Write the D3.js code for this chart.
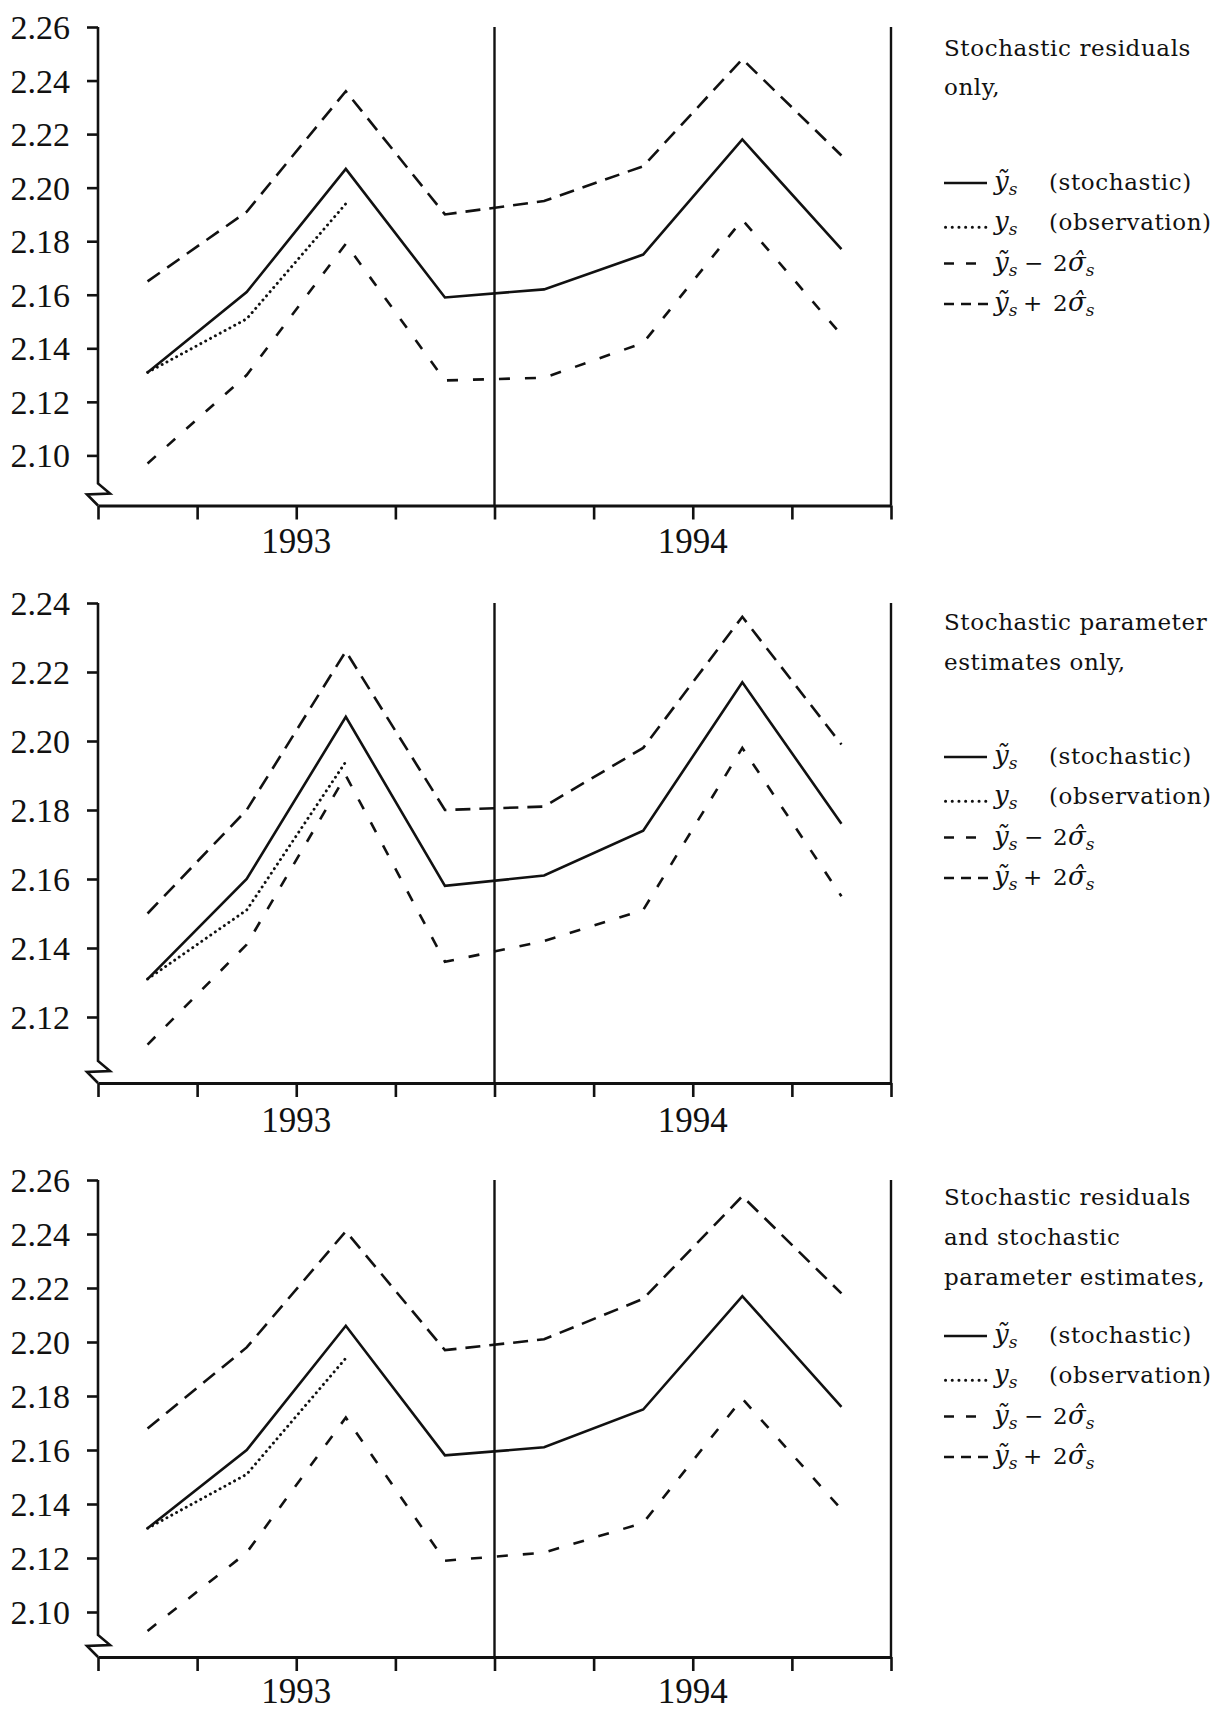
<!DOCTYPE html>
<html>
<head>
<meta charset="utf-8">
<script src="https://cdn.jsdelivr.net/npm/d3@7/dist/d3.min.js"></script>
<style>
  body { margin: 0; background: #fff; }
  svg { display: block; }
  .tick text { font-family: "Liberation Serif", "Times New Roman", serif; font-size: 34px; fill: #111; }
  .year { font-family: "Liberation Serif", "Times New Roman", serif; font-size: 35px; fill: #111; }
  .legend text { font-family: "DejaVu Serif", serif; font-size: 23px; letter-spacing: 0.6px; fill: #111; }
  .legend .math { font-family: "DejaVu Serif", serif; font-style: italic; letter-spacing: 0; }
</style>
</head>
<body>
<svg id="chart" width="1223" height="1711"></svg>
<script>
// quarters 1993Q1 .. 1994Q4
const quarters = ["1993Q1", "1993Q2", "1993Q3", "1993Q4", "1994Q1", "1994Q2", "1994Q3", "1994Q4"];
const years = ["1993", "1994"];
const observed = [2.131, 2.151, 2.194];

// panel 1: stochastic residuals only
const stochA = [2.131, 2.161, 2.207, 2.159, 2.162, 2.175, 2.218, 2.177];
const upperA = [2.165, 2.191, 2.236, 2.190, 2.195, 2.208, 2.248, 2.212];
const lowerA = [2.097, 2.130, 2.179, 2.128, 2.129, 2.142, 2.188, 2.145];
const ticksA = [2.10, 2.12, 2.14, 2.16, 2.18, 2.20, 2.22, 2.24, 2.26];

// panel 2: stochastic parameter estimates only
const stochB = [2.131, 2.160, 2.207, 2.158, 2.161, 2.174, 2.217, 2.176];
const upperB = [2.150, 2.180, 2.226, 2.180, 2.181, 2.198, 2.236, 2.199];
const lowerB = [2.112, 2.141, 2.190, 2.136, 2.142, 2.151, 2.198, 2.155];
const ticksB = [2.12, 2.14, 2.16, 2.18, 2.20, 2.22, 2.24];

// panel 3: both
const stochC = [2.131, 2.160, 2.206, 2.158, 2.161, 2.175, 2.217, 2.176];
const upperC = [2.168, 2.198, 2.241, 2.197, 2.201, 2.216, 2.254, 2.218];
const lowerC = [2.093, 2.122, 2.172, 2.119, 2.122, 2.133, 2.179, 2.138];
const ticksC = [2.10, 2.12, 2.14, 2.16, 2.18, 2.20, 2.22, 2.24, 2.26];

const titleA = ["Stochastic residuals", "only,"];
const titleB = ["Stochastic parameter", "estimates only,"];
const titleC = ["Stochastic residuals", "and stochastic", "parameter estimates,"];

// layout: yLow = pixel of the lowest tick, top = pixel of the highest tick
const panels = [
  { top: 27, yLow: 455.4, axisY: 505.5, ticks: ticksA, stoch: stochA, upper: upperA, lower: lowerA,
    title: titleA, titleY: [56, 95], legendY: 183, yearY: 553 },
  { top: 603, yLow: 1017, axisY: 1083, ticks: ticksB, stoch: stochB, upper: upperB, lower: lowerB,
    title: titleB, titleY: [630, 670], legendY: 757, yearY: 1132 },
  { top: 1180, yLow: 1612, axisY: 1657, ticks: ticksC, stoch: stochC, upper: upperC, lower: lowerC,
    title: titleC, titleY: [1205, 1245, 1285], legendY: 1336, yearY: 1703 },
];

const X0 = 98, X1 = 891;
const INK = "#111";

const svg = d3.select("#chart");

const xEdge = d3.scaleLinear().domain([0, quarters.length]).range([X0, X1]);
const xPt = d3.scalePoint().domain(quarters).range([X0, X1]).padding(0.5);

// legend entries: sample style + label pieces (x = fixed start where given)
const legendItems = [
  { dash: null, end: 987, parts: [{ t: "ỹ", m: 1, x: 994 }, { t: "s", sub: 1 }, { t: "(stochastic)", x: 1049 }] },
  { dash: "dot", end: 987, parts: [{ t: "y", m: 1, x: 994 }, { t: "s", sub: 1 }, { t: "(observation)", x: 1049 }] },
  { dash: "10,12", end: 976, parts: [{ t: "ỹ", m: 1, x: 994 }, { t: "s", sub: 1 }, { t: "−", x: 1024 }, { t: "2", x: 1053 }, { t: "σ\u0302", m: 1, x: 1068 }, { t: "s", sub: 1 }] },
  { dash: "10,7", end: 988, parts: [{ t: "ỹ", m: 1, x: 994 }, { t: "s", sub: 1 }, { t: "+", x: 1023 }, { t: "2", x: 1053 }, { t: "σ\u0302", m: 1, x: 1068 }, { t: "s", sub: 1 }] },
];

panels.forEach((p) => {
  const y = d3.scaleLinear()
    .domain([p.ticks[0], p.ticks[p.ticks.length - 1]])
    .range([p.yLow, p.top]);
  const g = svg.append("g");

  // y axis ticks + labels (spine drawn by hand for the break)
  const yAxis = g.append("g")
    .attr("transform", `translate(${X0},0)`)
    .call(d3.axisLeft(y).tickValues(p.ticks).tickSize(11).tickPadding(17).tickFormat(d3.format(".2f")));
  yAxis.select(".domain").remove();
  yAxis.selectAll(".tick line").attr("stroke", INK).attr("stroke-width", 2.6);
  yAxis.selectAll(".tick text").attr("font-family", null).attr("font-size", null).attr("dy", "0.34em");

  g.append("path")
    .attr("d", `M${X0},${p.top}V${p.axisY - 22}L${X0 + 12},${p.axisY - 12}L${X0 - 11},${p.axisY - 11}L${X0},${p.axisY}`)
    .attr("fill", "none").attr("stroke", INK).attr("stroke-width", 2.6).attr("stroke-linejoin", "miter");

  // x axis
  const xAxis = g.append("g")
    .attr("transform", `translate(0,${p.axisY})`)
    .call(d3.axisBottom(xEdge).tickValues(d3.range(quarters.length + 1)).tickSize(14).tickSizeOuter(0).tickFormat(""));
  xAxis.select(".domain").attr("stroke", INK).attr("stroke-width", 2.8);
  xAxis.selectAll(".tick line").attr("stroke", INK).attr("stroke-width", 2.6);

  g.selectAll(".year")
    .data(years)
    .enter()
    .append("text")
    .attr("class", "year")
    .attr("x", (d, i) => xEdge(2 + i * 4))
    .attr("y", p.yearY)
    .attr("text-anchor", "middle")
    .text((d) => d);

  // year divider and right border
  [4, 8].forEach((q) => {
    g.append("line")
      .attr("x1", xEdge(q)).attr("x2", xEdge(q))
      .attr("y1", p.top).attr("y2", p.axisY)
      .attr("stroke", INK).attr("stroke-width", 2.4);
  });

  const line = d3.line()
    .x((d, i) => xPt(quarters[i]))
    .y((d) => y(d));

  const series = [
    { v: p.upper, dash: "15,9", w: 2.6 },
    { v: p.lower, dash: "11,15", w: 2.6 },
    { v: observed, dash: "0.1,5.4", w: 2.9, cap: "round" },
    { v: p.stoch, dash: null, w: 2.6 },
  ];
  series.forEach((s) => {
    g.append("path")
      .datum(s.v)
      .attr("d", line)
      .attr("fill", "none")
      .attr("stroke", INK)
      .attr("stroke-width", s.w)
      .attr("stroke-dasharray", s.dash)
      .attr("stroke-linecap", s.cap || "butt")
      .attr("stroke-linejoin", "miter");
  });

  // legend
  const lg = g.append("g").attr("class", "legend");
  p.title.forEach((t, i) => {
    lg.append("text").attr("x", 944).attr("y", p.titleY[i]).text(t);
  });

  legendItems.forEach((it, i) => {
    const ly = p.legendY + i * 40.3;
    const ln = lg.append("line")
      .attr("x1", 944).attr("x2", it.end)
      .attr("y1", it.dash === "dot" ? ly + 4 : ly).attr("y2", it.dash === "dot" ? ly + 4 : ly)
      .attr("stroke", INK);
    if (it.dash === "dot") {
      ln.attr("stroke-width", 3).attr("stroke-dasharray", "0.1,6.6").attr("stroke-linecap", "round").attr("x1", 945.5);
    } else {
      ln.attr("stroke-width", 2.5).attr("stroke-dasharray", it.dash);
    }

    const txt = lg.append("text").attr("y", ly + 7);
    let shifted = false;
    it.parts.forEach((part) => {
      const ts = txt.append("tspan").text(part.t);
      if (part.x != null) ts.attr("x", part.x);
      if (part.m) ts.attr("class", "math").attr("font-size", "26px");
      if (part.sub) {
        ts.attr("class", "math").attr("font-size", "17px").attr("dy", 5);
        shifted = true;
      } else if (shifted) {
        ts.attr("dy", -5);
        shifted = false;
      }
    });
  });
});
</script>
</body>
</html>
